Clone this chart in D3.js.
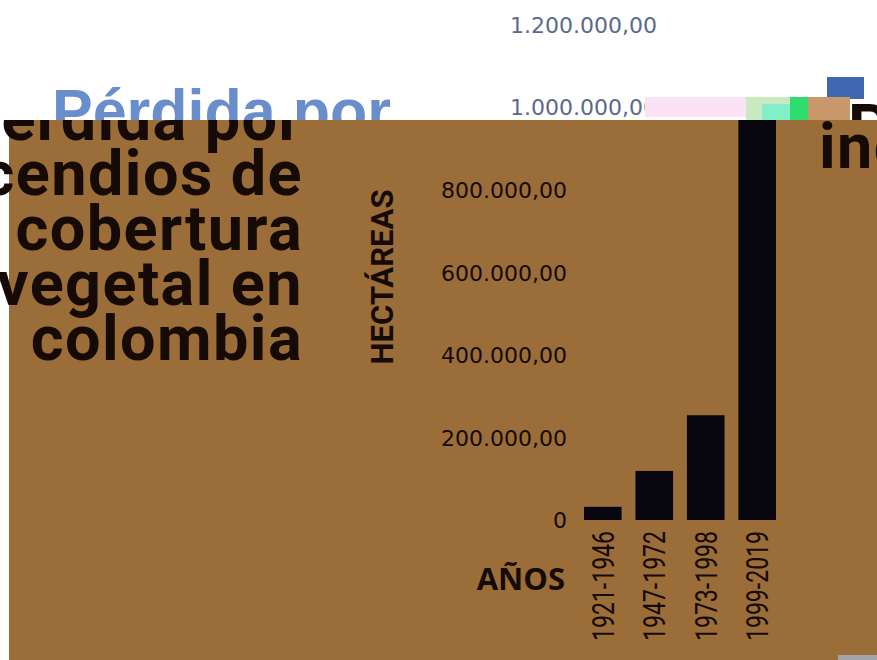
<!DOCTYPE html>
<html>
<head>
<meta charset="utf-8">
<script src="https://cdn.jsdelivr.net/npm/d3@7"></script>
<style>
  body { margin: 0; background: #fff; }
  svg { display: block; }
</style>
</head>
<body>
<div id="chart"></div>
<script>
// Pérdida por incendios de cobertura vegetal en Colombia (hectáreas por periodo)

const periods = ["1921-1946", "1947-1972", "1973-1998", "1999-2019"];
const hectares = [32000, 119000, 254000, 1010000];
const yTickValues = [0, 200000, 400000, 600000, 800000, 1000000, 1200000];
const titleLines = ["Pérdida por", "incendios de", "cobertura", "vegetal en", "colombia"];

document.addEventListener('DOMContentLoaded', function() {
    const width = 877, height = 660;
    const panelTop = 120, panelLeft = 9;
    const brown = "#9b6d38";
    const ink = "#160a06";

    const svg = d3.select("#chart").append("svg")
        .attr("width", width)
        .attr("height", height)
        .attr("viewBox", [0, 0, width, height]);

    const defs = svg.append("defs");
    defs.append("clipPath").attr("id", "panel-clip")
        .append("rect").attr("x", 0).attr("y", panelTop)
        .attr("width", width).attr("height", height - panelTop);
    defs.append("clipPath").attr("id", "top-clip")
        .append("rect").attr("x", 0).attr("y", 97)
        .attr("width", width).attr("height", panelTop - 97);

    // white strip on top: blue headline
    svg.append("text")
        .attr("x", 52).attr("y", 132)
        .attr("font-family", "'Liberation Sans', Arial, sans-serif")
        .attr("font-weight", 700)
        .attr("font-size", 61)
        .attr("fill", "#6a8dcb")
        .text(titleLines[0]);

    svg.append("rect")
        .attr("x", 827).attr("y", 77).attr("width", 37).attr("height", 22)
        .attr("fill", "#4068b0");

    // brown panel
    svg.append("rect")
        .attr("x", panelLeft).attr("y", panelTop)
        .attr("width", width - panelLeft).attr("height", height - panelTop)
        .attr("fill", brown);

    // scales
    const y = d3.scaleLinear()
        .domain([0, 1200000])
        .range([520, 25]);

    const x = d3.scaleBand()
        .domain(periods)
        .range([584, 776])
        .paddingInner(0.27)
        .paddingOuter(0);

    const locale = d3.formatLocale({ decimal: ",", thousands: ".", grouping: [3], currency: ["$", ""] });
    const fmt = locale.format(",.2f");

    // y axis (the labels in the white strip sit further right)
    const yAxis = svg.append("g")
        .attr("transform", "translate(567,0)")
        .call(d3.axisLeft(y).tickValues(yTickValues)
            .tickFormat(d => d === 0 ? "0" : fmt(d))
            .tickSize(0).tickPadding(0));
    yAxis.select(".domain").remove();
    yAxis.selectAll(".tick")
        .filter(d => y(d) < panelTop)
        .attr("transform", d => `translate(90,${y(d)})`);
    yAxis.selectAll("text")
        .attr("font-family", "'DejaVu Sans', Verdana, sans-serif")
        .attr("font-size", 22)
        .attr("dy", "0.36em")
        .attr("fill", d => y(d) < panelTop ? "#5b6a8c" : ink);

    // bars + panel text (clipped to the brown panel)
    const panel = svg.append("g").attr("clip-path", "url(#panel-clip)");

    panel.selectAll(".bar")
        .data(periods)
        .join("rect")
        .attr("class", "bar")
        .attr("x", d => x(d))
        .attr("width", x.bandwidth())
        .attr("y", (d, i) => y(hectares[i]))
        .attr("height", (d, i) => y(0) - y(hectares[i]))
        .attr("fill", "#08060e");

    panel.append("text")
        .attr("text-anchor", "end")
        .attr("font-family", "Roboto, sans-serif")
        .attr("font-weight", 700)
        .attr("font-size", 63)
        .attr("letter-spacing", 1.4)
        .attr("fill", ink)
        .selectAll("tspan")
        .data(titleLines)
        .join("tspan")
        .attr("x", 303)
        .attr("y", (d, i) => 140 + i * 55)
        .text(d => d);

    panel.append("text")
        .attr("x", 819).attr("y", 168)
        .attr("font-family", "Roboto, sans-serif")
        .attr("font-weight", 700)
        .attr("font-size", 63)
        .attr("letter-spacing", 1.4)
        .attr("fill", ink)
        .text("incendios");

    // x axis
    const xAxis = svg.append("g")
        .attr("transform", "translate(0,520)")
        .call(d3.axisBottom(x).tickSize(0));
    xAxis.select(".domain").remove();
    xAxis.selectAll("text")
        .attr("transform", "rotate(-90)")
        .attr("x", -11)
        .attr("y", 11)
        .attr("dy", 0)
        .attr("text-anchor", "end")
        .attr("font-family", "Roboto, sans-serif")
        .attr("font-size", 32)
        .attr("textLength", 110)
        .attr("lengthAdjust", "spacingAndGlyphs")
        .attr("fill", ink);

    // axis titles
    svg.append("text")
        .attr("transform", "translate(393,277) rotate(-90)")
        .attr("text-anchor", "middle")
        .attr("font-family", "Roboto, sans-serif")
        .attr("font-weight", 700)
        .attr("font-size", 31)
        .attr("textLength", 175)
        .attr("lengthAdjust", "spacingAndGlyphs")
        .attr("fill", ink)
        .text("HECTÁREAS");

    svg.append("text")
        .attr("x", 565).attr("y", 590)
        .attr("text-anchor", "end")
        .attr("font-family", "'Open Sans', sans-serif")
        .attr("font-weight", 700)
        .attr("font-size", 31)
        .attr("fill", ink)
        .text("AÑOS");

    // compression artefacts along the seam of the two pictures
    const seam = svg.append("g");
    seam.append("rect").attr("x", 645).attr("y", 97).attr("width", 101).attr("height", 20).attr("fill", "#fbe2f6");
    seam.append("rect").attr("x", 746).attr("y", 97).attr("width", 44).attr("height", 23).attr("fill", "#c9e9c0");
    seam.append("rect").attr("x", 762).attr("y", 104).attr("width", 28).attr("height", 16).attr("fill", "#7ff0c8");
    seam.append("rect").attr("x", 790).attr("y", 97).attr("width", 18).attr("height", 23).attr("fill", "#2fdc6e");
    seam.append("rect").attr("x", 808).attr("y", 97).attr("width", 42).attr("height", 23).attr("fill", "#c8976a");
    seam.append("text")
        .attr("clip-path", "url(#top-clip)")
        .attr("x", 848).attr("y", 150)
        .attr("font-family", "Roboto, sans-serif")
        .attr("font-weight", 700)
        .attr("font-size", 64)
        .attr("fill", ink)
        .text("P");
    seam.append("rect").attr("x", 838).attr("y", 655).attr("width", 39).attr("height", 5).attr("fill", "#a3a3ab");

    console.log('chart rendered');
});
</script>
</body>
</html>
